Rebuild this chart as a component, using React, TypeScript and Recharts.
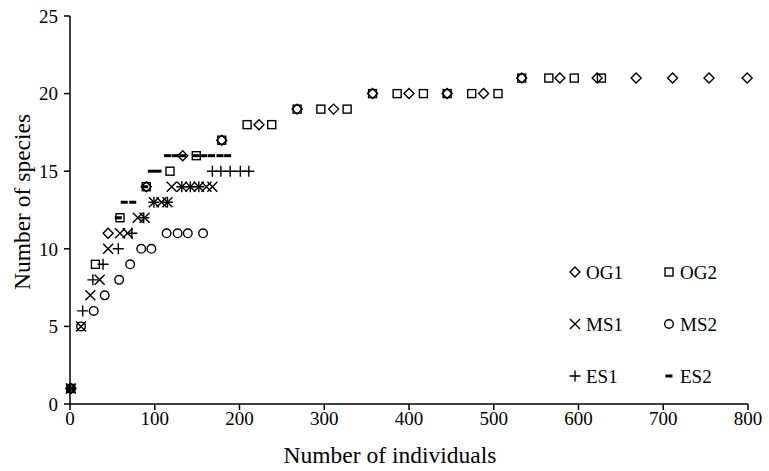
import { ScatterChart, Scatter, XAxis, YAxis } from "recharts";

const og1 = [
  { x: 1, y: 1 }, { x: 45, y: 11 }, { x: 90, y: 14 }, { x: 133, y: 16 }, { x: 179, y: 17 },
  { x: 223, y: 18 }, { x: 268, y: 19 }, { x: 311, y: 19 }, { x: 357, y: 20 }, { x: 400, y: 20 },
  { x: 445, y: 20 }, { x: 488, y: 20 }, { x: 533, y: 21 }, { x: 578, y: 21 }, { x: 622, y: 21 },
  { x: 668, y: 21 }, { x: 711, y: 21 }, { x: 754, y: 21 }, { x: 799, y: 21 },
];
const og2 = [
  { x: 1, y: 1 }, { x: 30, y: 9 }, { x: 59, y: 12 }, { x: 90, y: 14 }, { x: 118, y: 15 },
  { x: 149, y: 16 }, { x: 179, y: 17 }, { x: 209, y: 18 }, { x: 238, y: 18 }, { x: 268, y: 19 },
  { x: 296, y: 19 }, { x: 327, y: 19 }, { x: 357, y: 20 }, { x: 386, y: 20 }, { x: 417, y: 20 },
  { x: 445, y: 20 }, { x: 474, y: 20 }, { x: 505, y: 20 }, { x: 533, y: 21 }, { x: 565, y: 21 },
  { x: 595, y: 21 }, { x: 627, y: 21 },
];
const ms1 = [
  { x: 1, y: 1 }, { x: 13, y: 5 }, { x: 24, y: 7 }, { x: 35, y: 8 }, { x: 45, y: 10 },
  { x: 59, y: 11 }, { x: 68, y: 11 }, { x: 80, y: 12 }, { x: 88, y: 12 }, { x: 99, y: 13 },
  { x: 108, y: 13 }, { x: 115, y: 13 }, { x: 120, y: 14 }, { x: 132, y: 14 }, { x: 142, y: 14 },
  { x: 152, y: 14 }, { x: 161, y: 14 }, { x: 168, y: 14 },
];
const ms2 = [
  { x: 1, y: 1 }, { x: 13, y: 5 }, { x: 28, y: 6 }, { x: 41, y: 7 }, { x: 58, y: 8 },
  { x: 71, y: 9 }, { x: 84, y: 10 }, { x: 96, y: 10 }, { x: 114, y: 11 }, { x: 127, y: 11 },
  { x: 139, y: 11 }, { x: 157, y: 11 },
];
const es1 = [
  { x: 1, y: 1 }, { x: 15, y: 6 }, { x: 27, y: 8 }, { x: 39, y: 9 }, { x: 57, y: 10 },
  { x: 73, y: 11 }, { x: 87, y: 12 }, { x: 99, y: 13 }, { x: 115, y: 13 }, { x: 132, y: 14 },
  { x: 142, y: 14 }, { x: 152, y: 14 }, { x: 168, y: 15 }, { x: 178, y: 15 }, { x: 189, y: 15 },
  { x: 201, y: 15 }, { x: 211, y: 15 },
];
const es2 = [
  { x: 1, y: 1 }, { x: 57, y: 12 }, { x: 64, y: 13 }, { x: 74, y: 13 }, { x: 88, y: 14 },
  { x: 96, y: 15 }, { x: 104, y: 15 }, { x: 115, y: 16 }, { x: 124, y: 16 }, { x: 133, y: 16 },
  { x: 149, y: 16 }, { x: 158, y: 16 }, { x: 167, y: 16 }, { x: 177, y: 16 }, { x: 186, y: 16 },
];

const xTicks = [0, 100, 200, 300, 400, 500, 600, 700, 800];
const yTicks = [0, 5, 10, 15, 20, 25];

const font = "'Liberation Serif', 'Times New Roman', serif";
const ink = "#000";

const Diamond = ({ cx, cy }: any) => (
  <path d={`M${cx},${cy - 5}L${cx + 5},${cy}L${cx},${cy + 5}L${cx - 5},${cy}Z`} fill="none" stroke={ink} strokeWidth={1.4} />
);
const Square = ({ cx, cy }: any) => (
  <rect x={cx - 4} y={cy - 4} width={8} height={8} fill="none" stroke={ink} strokeWidth={1.4} />
);
const Cross = ({ cx, cy }: any) => (
  <path d={`M${cx - 5},${cy - 5}L${cx + 5},${cy + 5}M${cx - 5},${cy + 5}L${cx + 5},${cy - 5}`} stroke={ink} strokeWidth={1.4} />
);
const Circle = ({ cx, cy }: any) => <circle cx={cx} cy={cy} r={4.3} fill="none" stroke={ink} strokeWidth={1.4} />;
const Plus = ({ cx, cy }: any) => (
  <path d={`M${cx - 5.5},${cy}L${cx + 5.5},${cy}M${cx},${cy - 5.5}L${cx},${cy + 5.5}`} stroke={ink} strokeWidth={1.4} />
);
const Dash = ({ cx, cy }: any) => <rect x={cx - 3.5} y={cy - 1.5} width={7} height={3} fill={ink} />;

const legendItems = [
  { name: "OG1", Shape: Diamond },
  { name: "OG2", Shape: Square },
  { name: "MS1", Shape: Cross },
  { name: "MS2", Shape: Circle },
  { name: "ES1", Shape: Plus },
  { name: "ES2", Shape: Dash },
];

function LegendBox() {
  return (
    <svg width={180} height={140} style={{ position: "absolute", left: 565, top: 258 }}>
      {legendItems.map((it, i) => {
        const col = i % 2;
        const row = Math.floor(i / 2);
        const mx = 10 + col * 94;
        const my = 14 + row * 52;
        const S = it.Shape;
        return (
          <g key={it.name}>
            <S cx={mx} cy={my} />
            <text x={mx + 11} y={my} dominantBaseline="central" fontFamily={font} fontSize={19} fill={ink}>
              {it.name}
            </text>
          </g>
        );
      })}
    </svg>
  );
}

function YTitle({ viewBox }: any) {
  const cx = 22;
  const cy = viewBox.y + viewBox.height / 2 - 8;
  return (
    <text x={cx} y={cy} transform={`rotate(-90 ${cx} ${cy})`} textAnchor="middle" dominantBaseline="central" fontFamily={font} fontSize={23.5} fill={ink}>
      Number of species
    </text>
  );
}

function XTitle({ viewBox }: any) {
  const cx = viewBox.x + viewBox.width / 2 - 19;
  const cy = 455;
  return (
    <text x={cx} y={cy} textAnchor="middle" dominantBaseline="central" fontFamily={font} fontSize={23.5} fill={ink}>
      Number of individuals
    </text>
  );
}

export default function App() {
  return (
    <div style={{ position: "absolute", left: 0, top: 0, width: 769, height: 471, background: "#fff" }}>
      <ScatterChart width={769} height={471} margin={{ top: 16, right: 21, bottom: 17, left: 0 }}>
        <XAxis
          type="number"
          dataKey="x"
          domain={[0, 800]}
          ticks={xTicks}
          height={50}
          axisLine={{ stroke: ink, strokeWidth: 1.5 }}
          tickLine={{ stroke: ink, strokeWidth: 1.5 }}
          tickSize={6}
          tickMargin={2}
          tick={{ fill: ink, fontSize: 19, fontFamily: font }}
          label={<XTitle />}
        />
        <YAxis
          type="number"
          dataKey="y"
          domain={[0, 25]}
          ticks={yTicks}
          width={70}
          axisLine={{ stroke: ink, strokeWidth: 1.5 }}
          tickLine={{ stroke: ink, strokeWidth: 1.5 }}
          tickSize={6}
          tickMargin={6}
          tick={{ fill: ink, fontSize: 19, fontFamily: font }}
          label={<YTitle />}
        />
        <Scatter name="OG1" data={og1} shape={<Diamond />} isAnimationActive={false} />
        <Scatter name="OG2" data={og2} shape={<Square />} isAnimationActive={false} />
        <Scatter name="MS1" data={ms1} shape={<Cross />} isAnimationActive={false} />
        <Scatter name="MS2" data={ms2} shape={<Circle />} isAnimationActive={false} />
        <Scatter name="ES1" data={es1} shape={<Plus />} isAnimationActive={false} />
        <Scatter name="ES2" data={es2} shape={<Dash />} isAnimationActive={false} />
      </ScatterChart>
      <LegendBox />
    </div>
  );
}
